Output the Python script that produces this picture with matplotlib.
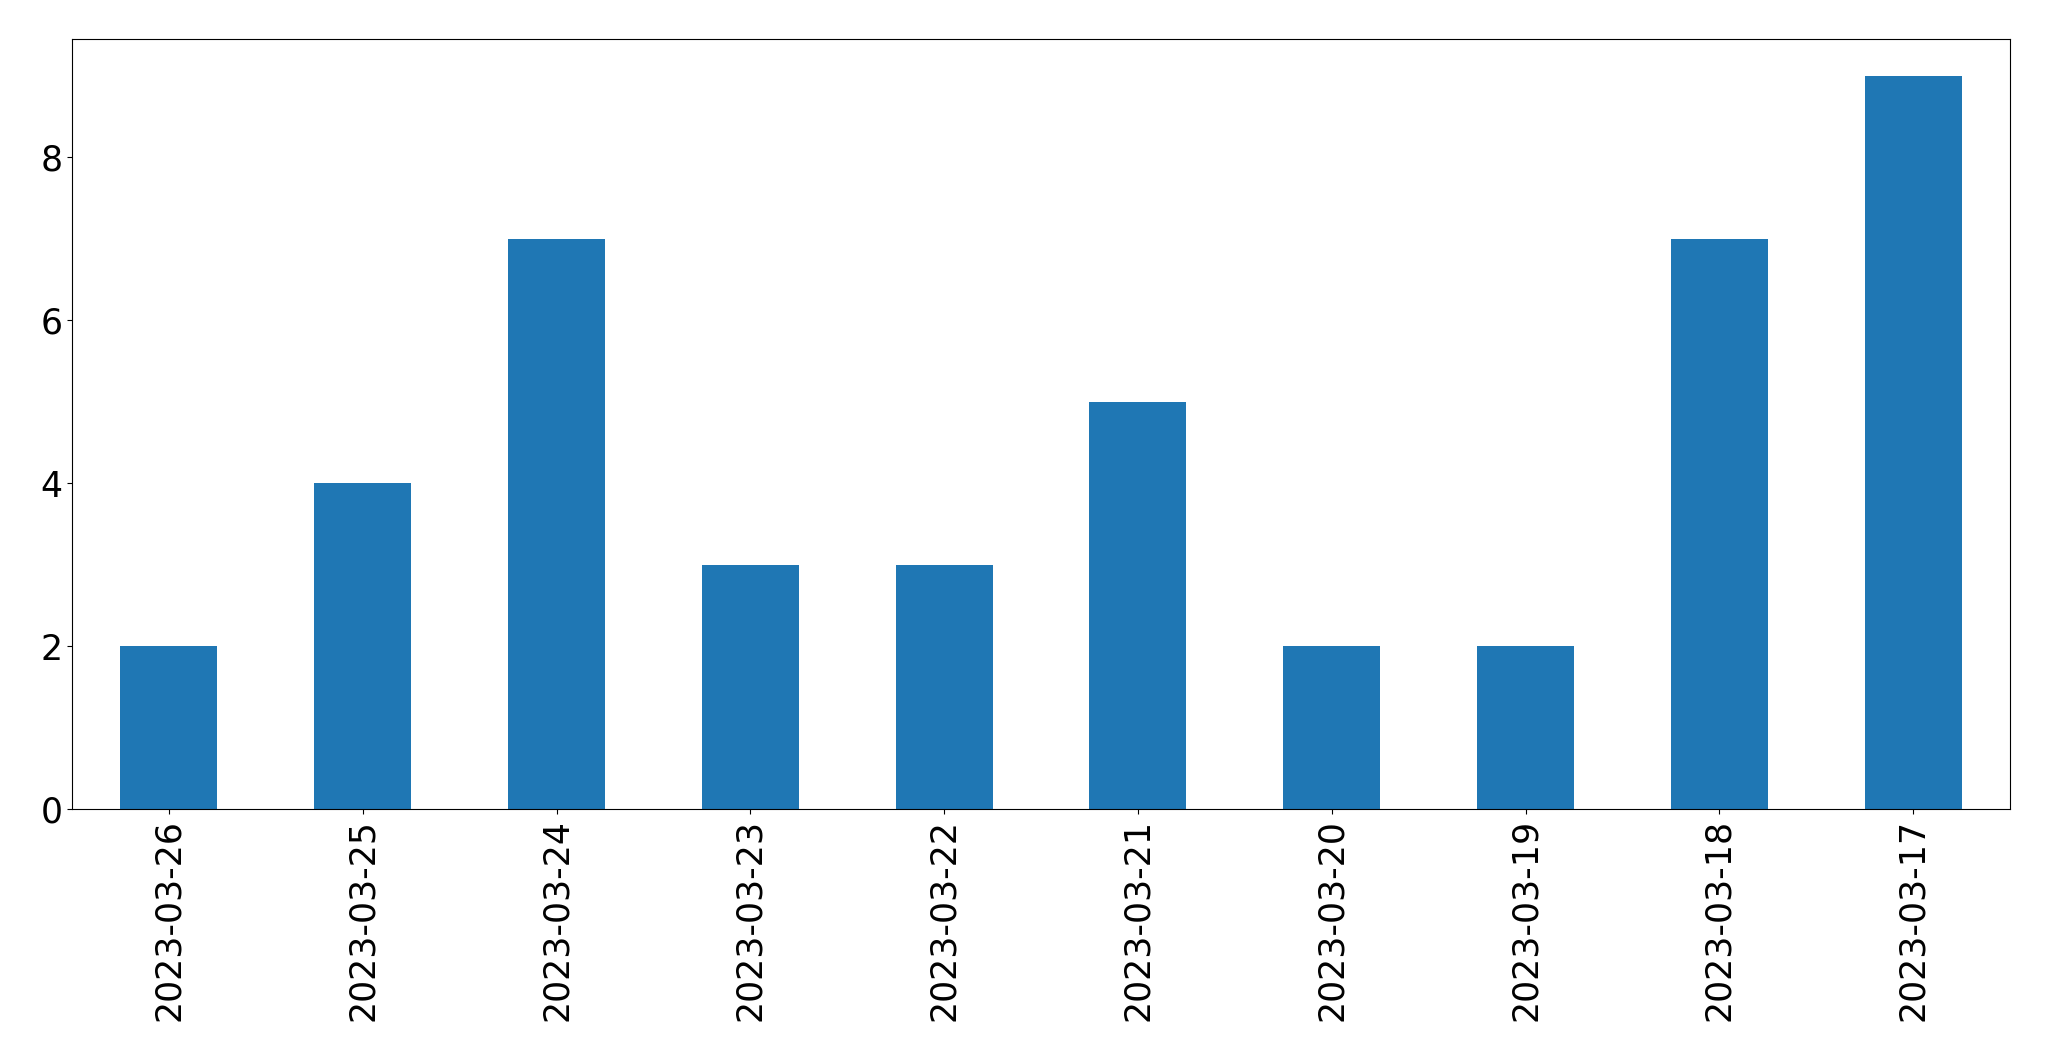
import matplotlib
matplotlib.use("Agg")
import matplotlib.pyplot as plt
import numpy as np

dates = ["2023-03-26", "2023-03-25", "2023-03-24", "2023-03-23", "2023-03-22",
         "2023-03-21", "2023-03-20", "2023-03-19", "2023-03-18", "2023-03-17"]
counts = [2, 4, 7, 3, 3, 5, 2, 2, 7, 9]

fig = plt.figure(figsize=(20.49, 10.61), dpi=100)
ax = fig.add_axes([72 / 2049, 1 - 809 / 1061, (2010 - 72) / 2049, (809 - 39) / 1061])

x = np.arange(len(dates))
ax.bar(x, counts, width=0.5, color="#1f77b4")
ax.set_xlim(-0.5, len(dates) - 0.5)
ax.set_ylim(0, max(counts) * 1.05)
ax.set_xticks(x)
ax.set_xticklabels(dates, rotation=90)
ax.tick_params(axis="both", labelsize=25)

fig.savefig("out.png", dpi=100)
plt.close(fig)
